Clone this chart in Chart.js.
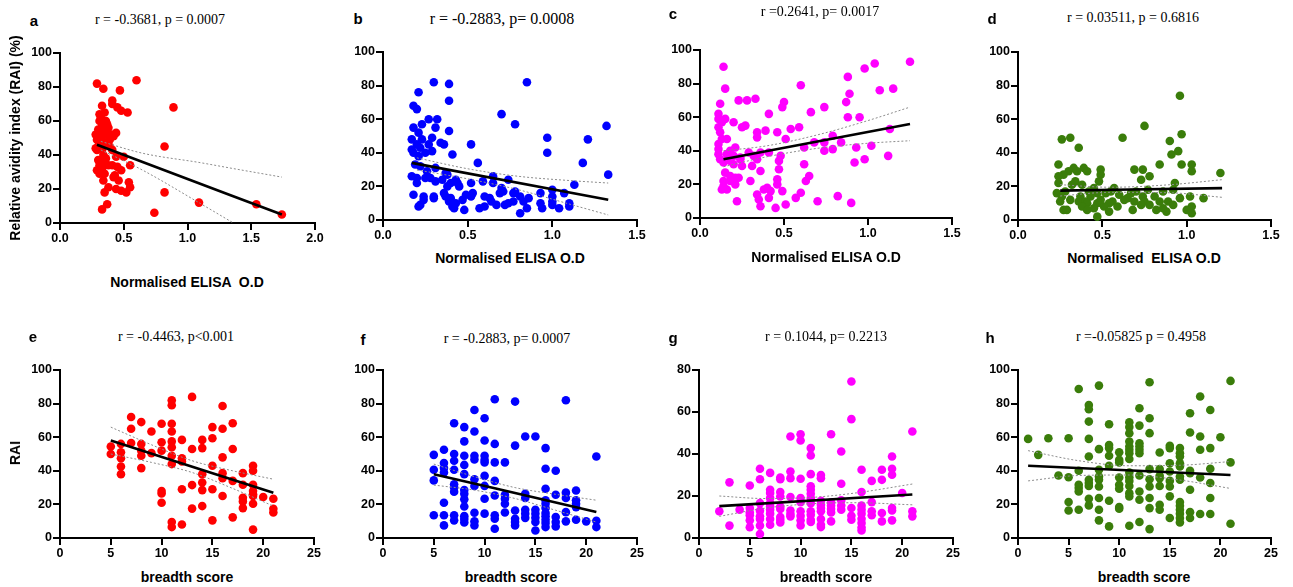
<!DOCTYPE html>
<html><head><meta charset="utf-8">
<script src="https://cdn.jsdelivr.net/npm/chart.js@4.4.1/dist/chart.umd.min.js"></script>
<style>
body{margin:0;background:#fff;width:1293px;height:587px;position:relative;overflow:hidden;font-family:"Liberation Sans",Arial,sans-serif}
canvas{position:absolute}
.t{position:absolute;font-family:"Liberation Serif","Times New Roman",serif;font-size:14px;color:#000;white-space:pre;transform:translate(-50%,-50%)}
.l{position:absolute;font-weight:bold;font-size:15px;transform:translate(-50%,-50%)}
.ax{position:absolute;font-weight:bold;font-size:14px;white-space:pre;transform:translate(-50%,-50%)}
.ay{position:absolute;font-weight:bold;font-size:14px;white-space:pre;transform:translate(-50%,-50%) rotate(-90deg)}
</style></head><body>
<script>
// ---------- DATA ----------
const panelLetters = ['a','b','c','d','e','f','g','h'];
const panelTitles = ['r = -0.3681, p = 0.0007','r = -0.2883, p= 0.0008','r =0.2641, p= 0.0017','r = 0.03511, p = 0.6816',
  'r = -0.4463, p<0.001','r = -0.2883, p= 0.0007','r = 0.1044, p= 0.2213','r =-0.05825 p = 0.4958'];
const xAxisTitles = ['Normalised ELISA  O.D','Normalised ELISA O.D','Normalised ELISA O.D','Normalised  ELISA O.D',
  'breadth score','breadth score','breadth score','breadth score'];
const yAxisTitles = ['Relative avidity index (RAI) (%)','RAI'];

const elisaTicks2 = [0,0.5,1,1.5,2];
const elisaLabels2 = ['0.0','0.5','1.0','1.5','2.0'];
const elisaTicks15 = [0,0.5,1,1.5];
const elisaLabels15 = ['0.0','0.5','1.0','1.5'];
const breadthTicks = [0,5,10,15,20,25];
const breadthLabels = ['0','5','10','15','20','25'];
const raiTicks100 = [0,20,40,60,80,100];
const raiTicks80 = [0,20,40,60,80];

const aPts = [[0.29,82],[0.34,79],[0.47,78],[0.60,84],[0.89,68],[0.41,72],[0.41,70],[0.33,69],[0.45,68],[0.48,66],[0.53,65],[0.31,64],[0.35,65],[0.31,60],[0.37,58],[0.35,56],[0.30,55],[0.38,56],[0.28,52],[0.33,54],[0.44,53],[0.42,51],[0.37,52],[0.29,49],[0.33,49],[0.39,49],[0.31,47],[0.39,45],[0.82,45],[0.29,43],[0.33,43],[0.41,43],[0.44,39],[0.50,39],[0.30,37],[0.35,35],[0.41,34],[0.55,34],[0.29,31],[0.33,32],[0.48,31],[0.35,29],[0.43,28],[0.46,25],[0.34,25],[0.54,24],[0.38,21],[0.44,20],[0.48,19],[0.55,21],[0.52,18],[0.35,18],[0.82,18],[0.37,11],[0.33,8],[0.74,6],[1.09,12],[1.54,11],[1.74,5],[0.30,45],[0.32,51],[0.36,47],[0.34,40],[0.31,34],[0.36,38],[0.40,52],[0.28,44],[0.33,57],[0.32,62],[0.42,27],[0.45,33],[0.38,34],[0.31,29],[0.30,50],[0.36,60]];
const aFit = [[0.29,46],[1.74,5]];
const aCIupX = [0.32,0.65,1.1,1.36,1.74], aCIup = [48,41,35.5,32,27];
const aCIloX = [0.32,0.65,1.1,1.36], aCIlo = [43,31,11.5,0];

const bPts = [[0.30,82],[0.39,81],[0.85,82],[0.21,76],[0.39,71],[0.18,68],[0.20,66],[0.70,63],[0.27,60],[0.32,60],[0.78,57],[0.23,57],[0.31,55],[0.18,55],[0.39,53],[0.21,52],[1.32,56],[1.21,48],[0.29,49],[0.17,48],[0.23,48],[0.97,49],[0.20,45],[0.27,45],[0.34,46],[0.36,45],[0.52,45],[0.22,43],[0.17,42],[0.29,41],[0.25,40],[0.18,40],[0.97,40],[0.41,39],[0.21,38],[0.56,34],[1.18,34],[0.19,33],[0.22,32],[0.31,31],[0.26,29],[0.37,28],[0.38,27],[1.33,27],[0.17,26],[0.20,25],[0.25,25],[0.28,25],[0.65,26],[0.35,24],[0.43,24],[0.74,24],[0.20,22],[0.31,23],[0.40,22],[0.44,22],[0.52,22],[0.59,23],[0.65,22],[1.13,21],[0.45,20],[0.38,20],[0.70,19],[0.71,17],[1.00,18],[0.18,15],[0.78,17],[0.77,16],[1.07,16],[0.24,14],[0.30,14],[0.36,16],[0.53,16],[0.69,16],[0.93,16],[0.30,13],[0.37,14],[0.40,13],[0.49,15],[0.52,14],[0.60,14],[0.63,13],[0.81,14],[0.86,13],[1.00,14],[0.24,12],[0.39,11],[0.43,10],[0.47,12],[0.64,11],[0.77,11],[0.83,11],[1.00,11],[1.10,10],[0.22,9],[0.21,8],[0.41,8],[0.42,7],[0.48,6],[0.57,7],[0.60,8],[0.67,9],[0.72,9],[0.74,10],[0.93,10],[0.94,7],[1.04,7],[1.10,8],[0.85,7],[0.81,4],[1.00,9]];
const bFit = [[0.17,34],[1.33,12]];
const bCIX = [0.2,0.5,0.8,1.1,1.33], bCIup = [37,30.5,26,23.5,22], bCIlo = [29.8,24.5,18,9.5,3];

const cPts = [[0.14,90],[0.15,77],[0.60,79],[0.88,84],[0.98,89],[1.04,92],[1.25,93],[1.15,77],[1.07,76],[0.89,74],[0.23,70],[0.28,70],[0.33,71],[0.50,69],[0.49,66],[0.74,66],[0.66,63],[0.41,62],[0.87,69],[0.12,68],[0.11,62],[0.11,59],[0.15,59],[0.13,57],[0.20,57],[0.88,60],[0.95,60],[0.27,55],[0.25,54],[0.54,53],[0.59,54],[0.11,54],[0.12,51],[0.34,51],[0.39,52],[1.13,53],[0.46,51],[0.16,47],[0.34,48],[0.51,47],[0.13,47],[0.79,49],[0.11,44],[0.68,45],[0.84,45],[0.74,45],[1.02,43],[0.62,42],[0.93,42],[0.11,41],[0.21,42],[0.18,40],[0.36,39],[0.41,39],[0.74,40],[0.79,41],[1.12,37],[0.29,39],[0.16,38],[0.11,38],[0.20,37],[0.24,36],[0.32,37],[0.48,37],[0.12,35],[0.14,33],[0.18,34],[0.24,35],[0.25,31],[0.20,32],[0.31,31],[0.34,35],[0.47,34],[0.98,35],[0.92,33],[0.62,32],[0.47,29],[0.36,28],[0.15,27],[0.18,25],[0.23,24],[0.21,24],[0.65,25],[0.14,22],[0.18,22],[0.30,22],[0.46,23],[0.63,22],[0.14,19],[0.21,20],[0.46,20],[0.40,18],[0.38,17],[0.13,17],[0.16,17],[0.42,16],[0.49,16],[0.60,15],[0.57,12],[0.34,14],[0.41,12],[0.82,13],[0.35,11],[0.22,10],[0.70,10],[0.90,9],[0.36,7],[0.51,8],[0.45,6]];
const cFit = [[0.14,35],[1.25,56]];
const cCIX = [0.14,0.4,0.7,1.0,1.25], cCIup = [40,43,49.5,58,66], cCIlo = [30.5,36.5,41.5,44.5,46];

const dPts = [[0.96,74],[0.75,56],[0.62,49],[0.97,51],[0.90,47],[0.95,41],[0.91,39],[0.31,49],[0.26,48],[0.36,43],[0.24,33],[0.84,33],[0.97,33],[1.03,33],[1.20,28],[1.03,29],[0.74,30],[0.69,30],[0.49,30],[0.49,27],[0.78,26],[0.33,31],[0.39,31],[0.30,29],[0.35,29],[0.41,29],[0.27,27],[0.24,26],[0.34,23],[0.73,24],[0.48,23],[0.93,22],[0.24,22],[0.32,21],[0.38,21],[0.57,19],[0.77,18],[0.55,17],[0.28,17],[0.23,16],[0.45,19],[0.47,16],[0.42,17],[0.52,16],[0.67,16],[0.70,17],[0.86,17],[0.92,18],[0.26,14],[0.37,14],[0.43,14],[0.60,15],[0.65,13],[0.74,14],[0.81,14],[0.96,13],[1.02,14],[1.10,13],[0.31,12],[0.36,11],[0.40,11],[0.49,12],[0.56,11],[0.63,12],[0.69,11],[0.75,11],[0.84,11],[0.89,11],[0.25,11],[0.41,10],[0.47,10],[0.73,9],[0.78,9],[0.54,10],[0.92,9],[0.38,8],[0.45,7],[0.51,8],[0.68,6],[0.82,6],[0.88,5],[0.27,6],[0.29,6],[0.41,6],[0.54,5],[1.03,8],[1.00,6],[1.03,4],[0.47,2],[0.59,8],[0.86,7]];
const dFit = [[0.25,17.5],[1.21,19]];
const dCIX = [0.25,0.55,0.9,1.21], dCIup = [21,19.5,21,24], dCIlo = [14.3,16.5,16.2,13.5];

const ePts = [[5,54.5],[5,50],[6,56],[6,51],[6,47.5],[6,42.6],[6,38],[7,72],[7,65],[7,56.5],[8,69],[8,56],[8,52],[8,49],[8,41.6],[9,63.4],[9,50.5],[10,68],[10,57],[10,52],[10,28],[10,26.5],[10,21],[11,82],[11,79],[11,68],[11,63.4],[11,57.5],[11,54],[11,49],[11,44],[11,9.5],[11,6.5],[12,58.4],[12,47.5],[12,45.5],[12,29],[12,8],[13,84],[13,53],[13,31.5],[13,17.5],[14,58.4],[14,53.5],[14,38],[14,33],[14,28.5],[14,19],[15,66],[15,59.4],[15,43],[15,29],[15,10.5],[16,78.6],[16,65],[16,48],[16,38.6],[16,35.6],[16,25],[17,68.3],[17,53],[17,34],[17,12.3],[18,38.6],[18,31.7],[18,24],[18,21.8],[18,17.8],[19,43],[19,40],[19,31.7],[19,28],[19,26],[19,25],[19,20.4],[19,5],[20,24.4],[21,23.4],[21,17.4],[21,15.2]];
const eFit = [[5,58],[21,27]];
const eCIX = [5,9,13,17,21], eCIup = [66,55.5,46,40,35], eCIlo = [50,45,39,29.5,19];

const fPts = [[5,49.5],[5,40.6],[5,34.3],[5,13.5],[6,52.5],[6,44.6],[6,41.6],[6,39],[6,21],[6,13.5],[6,7.5],[7,68.3],[7,50],[7,46],[7,40.6],[7,32],[7,30],[7,27.5],[7,13.5],[7,10.5],[8,66],[8,57.5],[8,49],[8,43.5],[8,38],[8,28.5],[8,26.3],[8,23],[8,18.8],[8,13],[8,11.3],[8,9.3],[9,76.2],[9,63.4],[9,49],[9,46.7],[9,35],[9,31],[9,15],[9,10],[9,7.5],[10,71.3],[10,58],[10,49],[10,46.5],[10,45],[10,37],[10,31],[10,23.4],[10,14.5],[11,82.6],[11,56],[11,45],[11,34],[11,25.3],[11,13.5],[11,11.5],[11,5.5],[12,45],[12,25.7],[12,23.4],[12,20.4],[12,15.2],[13,81.2],[13,55],[13,16.4],[13,11.5],[13,9.5],[13,7.5],[14,60.4],[14,26.3],[14,23.8],[14,16.8],[14,14.5],[14,12],[15,60.4],[15,16.8],[15,14.5],[15,12],[15,9.5],[15,4.5],[16,53.5],[16,41.2],[16,29.3],[16,22.4],[16,20.4],[16,17.8],[16,14.9],[16,12.9],[16,10.9],[16,8.9],[16,6.5],[17,40],[17,25.7],[17,12.5],[17,9.5],[17,6.9],[18,82],[18,27],[18,23.8],[18,15.4],[18,9.9],[19,28.3],[19,22.4],[19,20.4],[19,18.4],[19,10.9],[20,9.9],[21,48.5],[21,10.3],[21,6.5]];
const fFit = [[5,38],[21,15.5]];
const fCIX = [5,9,13,17,21], fCIup = [44,36.5,30,26,22.5], fCIlo = [31.5,28.5,23.5,16.5,9.5];

const gPts = [[2,12.7],[3,26.5],[3,5.9],[4,13.5],[5,25],[5,14.3],[5,12.2],[5,10.8],[5,8.4],[5,5.1],[6,33],[6,28],[6,16.6],[6,13],[6,10.3],[6,9],[6,5.9],[6,1.9],[7,31],[7,23],[7,21.4],[7,19],[7,16.6],[7,15],[7,13.5],[7,11.6],[7,9],[7,6.3],[8,28.8],[8,28],[8,21.9],[8,19.8],[8,15],[8,13.8],[8,10],[8,8.7],[8,7.4],[9,48.3],[9,31.7],[9,28.5],[9,19.5],[9,13.1],[9,11.4],[9,10.3],[10,49.4],[10,46.4],[10,28.2],[10,19],[10,17],[10,12.7],[10,10.6],[10,8.4],[10,6],[11,42.8],[11,39.3],[11,30.4],[11,24.6],[11,23],[11,21.1],[11,19],[11,16.6],[11,12.7],[11,11.1],[11,8.7],[11,7.6],[12,30],[12,28.5],[12,17.7],[12,15.8],[12,14.3],[12,12.7],[12,9],[12,6.3],[12,5.2],[13,49.4],[13,17],[13,15.4],[13,13.8],[13,12.2],[13,7.9],[14,41.2],[14,25.8],[14,17.9],[14,15.5],[14,13.5],[15,74.5],[15,56.6],[15,14.3],[15,10.6],[15,8.7],[16,32.5],[16,21.9],[16,15.4],[16,13.5],[16,11.6],[16,9.2],[16,7.1],[16,5],[16,3.6],[17,27.2],[17,17.1],[17,12.7],[17,10.8],[18,32.5],[18,27.7],[18,11.9],[18,7.9],[19,38.8],[19,33],[19,30.1],[19,14.3],[19,13.1],[19,8.4],[20,21.4],[21,50.7],[21,12.7],[21,10.3]];
const gFit = [[2,15.2],[21,20.7]];
const gCIX = [2,6.5,11,15.5,21], gCIup = [20,18.8,19.3,21.5,25.7], gCIlo = [10.3,14.2,16.3,16.8,15.8];

const hPts = [[1,59],[2,49.5],[3,59.4],[4,37.2],[5,59.4],[5,36.2],[5,21.4],[5,16.4],[6,88.7],[6,40],[6,31.7],[6,29.7],[6,27.7],[6,16.8],[7,79.2],[7,76.6],[7,69.3],[7,59],[7,48.5],[7,34.7],[7,32.7],[7,31],[7,23.4],[7,19.4],[8,90.7],[8,52.9],[8,40.6],[8,36.6],[8,34.7],[8,30.7],[8,23.8],[8,16.8],[8,10.5],[9,67.7],[9,55.4],[9,53.5],[9,49],[9,43],[9,22.2],[9,6.9],[10,51],[10,46.5],[10,45],[10,36],[10,31.7],[10,29.3],[10,18.4],[10,17.4],[11,68.9],[11,66],[11,62.4],[11,57.4],[11,54.5],[11,52.5],[11,50.5],[11,47],[11,39],[11,36.2],[11,34],[11,31],[11,26.7],[11,24.7],[11,7.3],[12,77.2],[12,66.9],[12,56.4],[12,54.5],[12,52.5],[12,50.5],[12,37.2],[12,27.7],[12,22.8],[12,9.5],[13,92.7],[13,71.3],[13,62.4],[13,41],[13,35],[13,30.7],[13,23.8],[13,17.8],[13,5.3],[14,50.9],[14,41],[14,37],[14,35.6],[14,31],[14,19.8],[14,16.8],[15,54.9],[15,53.5],[15,44.5],[15,39.6],[15,34],[15,30.7],[15,24.8],[15,11.9],[16,53.5],[16,50.5],[16,48.5],[16,44.5],[16,42.6],[16,36.6],[16,34.7],[16,21.4],[16,19.2],[16,16.8],[16,14.5],[16,11.9],[16,9.3],[17,74.3],[17,62.8],[17,40],[17,38.6],[17,28.7],[17,15.4],[17,11.9],[18,84.2],[18,60.4],[18,52.5],[18,36],[18,14.3],[19,76.2],[19,53.5],[19,41.2],[19,32.7],[19,23.8],[19,14.3],[20,60],[21,93.5],[21,45],[21,8.5]];
const hFit = [[1,43],[21,37.5]];
const hCIX = [1,6,11,16,21], hCIup = [52,46,43,43.3,45.5], hCIlo = [34,37.2,37.5,34.5,29.5];

// ---------- LAYOUT / STYLE ----------
const RED='#ff0000', BLUE='#0000ff', MAG='#ff00ff', GRN='#3a7d0a';
const pairs = (xs, ys) => xs.map((x,i)=>({x, y:ys[i]}));
const panels = [
 {pts:aPts, fit:aFit, up:pairs(aCIupX,aCIup), lo:pairs(aCIloX,aCIlo), color:RED, xmax:2, xt:elisaTicks2, xl:elisaLabels2, ymax:100, yt:raiTicks100, box:[60,315,53,223], title:[160,20], letter:[34,20], xtitle:[187,282], ytitle:[15,138,0]},
 {pts:bPts, fit:bFit, up:pairs(bCIX,bCIup), lo:pairs(bCIX,bCIlo), color:BLUE, xmax:1.5, xt:elisaTicks15, xl:elisaLabels15, ymax:100, yt:raiTicks100, box:[383,637,52,220], title:[502,19], letter:[358,18], xtitle:[510,258], big:true},
 {pts:cPts, fit:cFit, up:pairs(cCIX,cCIup), lo:pairs(cCIX,cCIlo), color:MAG, xmax:1.5, xt:elisaTicks15, xl:elisaLabels15, ymax:100, yt:raiTicks100, box:[700,952,50,218], title:[820,12], letter:[673,13], xtitle:[826,257]},
 {pts:dPts, fit:dFit, up:pairs(dCIX,dCIup), lo:pairs(dCIX,dCIlo), color:GRN, xmax:1.5, xt:elisaTicks15, xl:elisaLabels15, ymax:100, yt:raiTicks100, box:[1018,1271,52,220], title:[1133,18], letter:[992,18], xtitle:[1144,258]},
 {pts:ePts, fit:eFit, up:pairs(eCIX,eCIup), lo:pairs(eCIX,eCIlo), color:RED, xmax:25, xt:breadthTicks, xl:breadthLabels, ymax:100, yt:raiTicks100, box:[60,314,370,538], title:[176,337], letter:[33,336], xtitle:[187,577], ytitle:[15,453,1]},
 {pts:fPts, fit:fFit, up:pairs(fCIX,fCIup), lo:pairs(fCIX,fCIlo), color:BLUE, xmax:25, xt:breadthTicks, xl:breadthLabels, ymax:100, yt:raiTicks100, box:[383,637,370,538], title:[507,339], letter:[363,339], xtitle:[511,577]},
 {pts:gPts, fit:gFit, up:pairs(gCIX,gCIup), lo:pairs(gCIX,gCIlo), color:MAG, xmax:25, xt:breadthTicks, xl:breadthLabels, ymax:80, yt:raiTicks80, box:[699,953,370,538], title:[826,337], letter:[673,337], xtitle:[826,577]},
 {pts:hPts, fit:hFit, up:pairs(hCIX,hCIup), lo:pairs(hCIX,hCIlo), color:GRN, xmax:25, xt:breadthTicks, xl:breadthLabels, ymax:100, yt:raiTicks100, box:[1018,1271,370,538], title:[1141,337], letter:[990,337], xtitle:[1144,577]}
];

const tickFont = {family:'"Liberation Sans", Arial, sans-serif', size:12.5, weight:'bold'};
const YW = 50, XH = 30, PT = 12, PR = 14;

function addDiv(cls, text, x, y, extra) {
  const d = document.createElement('div');
  d.className = cls; d.textContent = text;
  d.style.left = x + 'px'; d.style.top = y + 'px';
  if (extra) Object.assign(d.style, extra);
  document.body.appendChild(d);
}

panels.forEach((p, i) => {
  const [L,R,T,B] = p.box;
  const c = document.createElement('canvas');
  c.width = R - L + YW + PR; c.height = B - T + PT + XH;
  c.style.left = (L - YW) + 'px'; c.style.top = (T - PT) + 'px';
  c.style.width = c.width + 'px'; c.style.height = c.height + 'px';
  document.body.appendChild(c);
  const lineDs = (data, col, w, dash, ord) => ({data, showLine:true, borderColor:col, backgroundColor:col, borderWidth:w, borderDash:dash, pointRadius:0, pointHoverRadius:0, cubicInterpolationMode:'monotone', clip:false, order:ord});
  new Chart(c, {
    type:'scatter',
    data:{datasets:[
      {data:p.pts.map(q=>({x:q[0], y:q[1]})), backgroundColor:p.color, borderColor:p.color, borderWidth:0, pointRadius:4.3, pointHoverRadius:4.3, clip:false, order:3},
      lineDs(p.up, '#8c8c8c', 1, [2,2], 1),
      lineDs(p.lo, '#8c8c8c', 1, [2,2], 1),
      lineDs(p.fit.map(q=>({x:q[0], y:q[1]})), '#000', 2.6, [], 0)
    ]},
    options:{
      responsive:false, devicePixelRatio:1, animation:false, events:[],
      layout:{padding:{top:PT, right:PR, left:0, bottom:0}},
      plugins:{legend:{display:false}, tooltip:{enabled:false}},
      scales:{
        x:{type:'linear', min:0, max:p.xmax,
          afterBuildTicks:s=>{ s.ticks = p.xt.map(v=>({value:v})); },
          afterFit:s=>{ s.height = XH; s.paddingLeft = 0; s.paddingRight = 0; },
          ticks:{color:'#000', font:tickFont, padding:1, autoSkip:false, maxRotation:0, callback:(v,idx)=>p.xl[idx]},
          grid:{drawOnChartArea:false, drawTicks:true, tickLength:7, color:'#000', lineWidth:2},
          border:{display:true, color:'#000', width:2}},
        y:{type:'linear', min:0, max:p.ymax,
          afterBuildTicks:s=>{ s.ticks = p.yt.map(v=>({value:v})); },
          afterFit:s=>{ s.width = YW; s.paddingTop = 0; s.paddingBottom = 0; },
          ticks:{color:'#000', font:tickFont, padding:1, autoSkip:false, callback:(v)=>String(v)},
          grid:{drawOnChartArea:false, drawTicks:true, tickLength:7, color:'#000', lineWidth:2},
          border:{display:true, color:'#000', width:2}}
      }
    }
  });
  addDiv('t', panelTitles[i], p.title[0], p.title[1], p.big ? {fontSize:'16px'} : null);
  addDiv('l', panelLetters[i], p.letter[0], p.letter[1]);
  addDiv('ax', xAxisTitles[i], p.xtitle[0], p.xtitle[1]);
  if (p.ytitle) addDiv('ay', yAxisTitles[p.ytitle[2]], p.ytitle[0], p.ytitle[1]);
});
</script>
</body></html>
